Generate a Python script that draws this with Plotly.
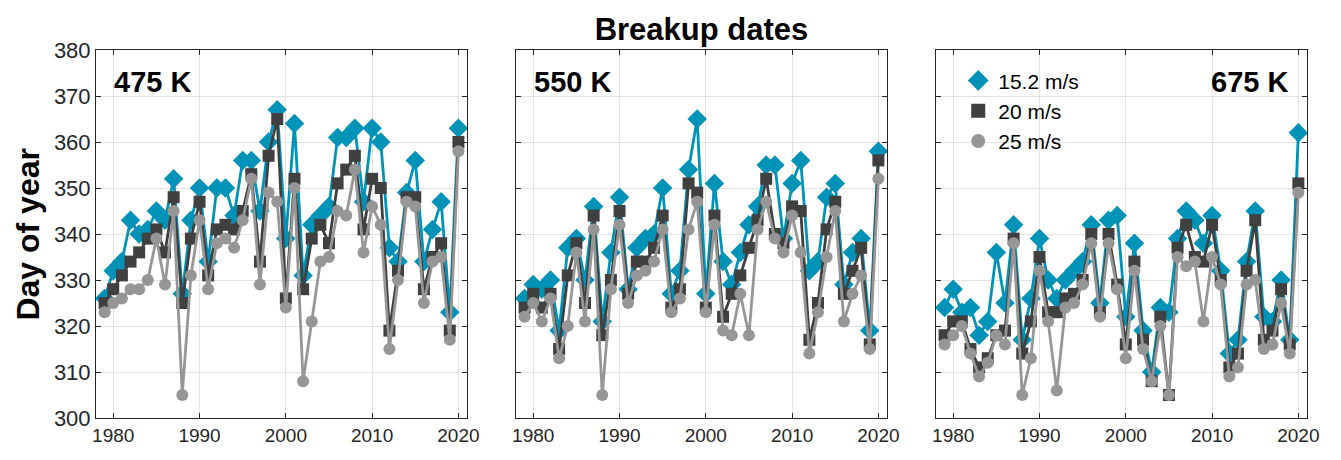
import plotly.graph_objects as go
from plotly.subplots import make_subplots

years = list(range(1979, 2021))

# 475 K panel
b475 = [326, 332, 334, 343, 340, 341, 345, 343, 352, 327, 343, 350, 334, 350, 350, 344, 356, 356, 345, 360, 367,
        339, 364, 331, 342, 344, 346, 361, 361, 363, 347, 363, 360, 337, 334, 349, 356, 334, 341, 347, 323, 363]
s475 = [325, 328, 331, 334, 336, 339, 341, 336, 348, 325, 339, 347, 331, 341, 342, 341, 345, 353, 334, 357, 365,
        326, 352, 328, 339, 342, 338, 351, 354, 357, 341, 352, 350, 319, 332, 348, 348, 328, 335, 338, 319, 360]
c475 = [323, 325, 326, 328, 328, 330, 339, 329, 345, 305, 331, 343, 328, 338, 339, 337, 343, 352, 329, 349, 347,
        324, 350, 308, 321, 334, 335, 345, 344, 354, 336, 346, 342, 315, 330, 347, 346, 325, 334, 335, 317, 358]

# 550 K panel
b550 = [326, 329, 328, 330, 319, 337, 339, 330, 346, 321, 336, 348, 328, 337, 339, 340, 350, 327, 332, 354, 365,
        327, 351, 334, 329, 336, 342, 346, 355, 355, 339, 351, 356, 332, 334, 348, 351, 329, 336, 339, 319, 358]
s550 = [324, 327, 324, 327, 315, 331, 338, 325, 344, 318, 330, 345, 327, 334, 334, 337, 344, 324, 328, 351, 349,
        324, 344, 322, 327, 331, 337, 343, 352, 340, 338, 346, 345, 317, 325, 341, 347, 327, 332, 337, 316, 356]
c550 = [322, 325, 321, 326, 313, 320, 336, 321, 341, 305, 328, 342, 325, 331, 332, 334, 341, 323, 326, 341, 347,
        323, 342, 319, 318, 327, 318, 341, 347, 339, 336, 344, 336, 314, 323, 335, 345, 321, 327, 331, 315, 352]

# 675 K panel
b675 = [324, 328, 323, 324, 318, 321, 336, 325, 342, 317, 326, 339, 330, 326, 330, 332, 334, 342, 325, 343, 344,
        322, 338, 319, 310, 324, 323, 339, 345, 343, 338, 344, 332, 314, 317, 334, 345, 322, 321, 330, 317, 362]
s675 = [318, 321, 321, 315, 311, 313, 318, 319, 339, 314, 321, 335, 323, 323, 326, 327, 330, 340, 323, 340, 329,
        316, 334, 317, 308, 322, 305, 337, 342, 335, 334, 342, 330, 311, 314, 332, 343, 317, 319, 328, 316, 351]
c675 = [316, 318, 320, 314, 309, 312, 318, 316, 338, 305, 313, 332, 321, 306, 324, 325, 329, 338, 322, 338, 328,
        313, 332, 315, 308, 320, 305, 335, 333, 334, 321, 335, 329, 309, 311, 329, 330, 315, 316, 325, 314, 349]

panel_labels = ["475 K", "550 K", "675 K"]
series_names = ["15.2 m/s", "20 m/s", "25 m/s"]
x_ticks = [1980, 1990, 2000, 2010, 2020]
y_ticks = [300, 310, 320, 330, 340, 350, 360, 370, 380]

colors = ["#0093B7", "#404040", "#969696"]
symbols = ["diamond", "square", "circle"]
sizes = [15, 12, 12]

panels = [(b475, s475, c475), (b550, s550, c550), (b675, s675, c675)]

fig = make_subplots(rows=1, cols=3, shared_yaxes=True)

for p, data in enumerate(panels):
    for k, vals in enumerate(data):
        fig.add_trace(go.Scatter(
            x=years, y=vals, mode="lines+markers", name=series_names[k],
            line=dict(color=colors[k], width=2.8),
            marker=dict(symbol=symbols[k], size=sizes[k], color=colors[k]),
            showlegend=False), row=1, col=p + 1)

# legend entries (markers only, as in the reference legend)
for k in range(3):
    fig.add_trace(go.Scatter(
        x=[None], y=[None], mode="markers", name=series_names[k],
        marker=dict(symbol=symbols[k], size=sizes[k] + 2, color=colors[k]),
        showlegend=True), row=1, col=3)

font_family = "Liberation Sans, Arial, Helvetica, sans-serif"
domains = [[0.0, 0.3064], [0.3468, 0.6532], [0.6936, 1.0]]
for i in range(3):
    xa = "xaxis" if i == 0 else f"xaxis{i+1}"
    ya = "yaxis" if i == 0 else f"yaxis{i+1}"
    fig.layout[xa].update(
        domain=domains[i], range=[1978, 2021], tickvals=x_ticks,
        ticks="inside", ticklen=5, tickcolor="#262626",
        showline=True, linecolor="#262626", linewidth=1, mirror="ticks",
        showgrid=True, gridcolor="#e3e3e3", gridwidth=1, zeroline=False,
        tickfont=dict(size=19, color="#262626", family=font_family))
    fig.layout[ya].update(
        range=[300, 380], tickvals=y_ticks,
        ticks="inside", ticklen=5, tickcolor="#262626",
        showline=True, linecolor="#262626", linewidth=1, mirror="ticks",
        showgrid=True, gridcolor="#e3e3e3", gridwidth=1, zeroline=False,
        showticklabels=(i == 0),
        tickfont=dict(size=22, color="#262626", family=font_family))

annotations = [
    dict(text="<b>475 K</b>", x=0.0132, y=0.913, xref="paper", yref="paper",
         xanchor="left", yanchor="middle", showarrow=False,
         font=dict(size=29, color="black", family=font_family)),
    dict(text="<b>550 K</b>", x=0.3600, y=0.913, xref="paper", yref="paper",
         xanchor="left", yanchor="middle", showarrow=False,
         font=dict(size=29, color="black", family=font_family)),
    dict(text="<b>675 K</b>", x=0.986, y=0.913, xref="paper", yref="paper",
         xanchor="right", yanchor="middle", showarrow=False,
         font=dict(size=29, color="black", family=font_family)),
    dict(text="<b>Day of year</b>", x=-0.0565, y=0.5, xref="paper", yref="paper",
         xanchor="center", yanchor="middle", textangle=-90, showarrow=False,
         borderpad=0,
         font=dict(size=32, color="black", family=font_family)),
]

fig.update_layout(
    width=1341, height=460,
    margin=dict(l=88, r=42, t=42, b=50),
    paper_bgcolor="white", plot_bgcolor="white",
    title=dict(text="<b>Breakup dates</b>", x=0.5, xref="paper", y=0.955, yref="container",
               xanchor="center", yanchor="middle",
               font=dict(size=31, color="black", family=font_family)),
    annotations=annotations,
    legend=dict(x=0.712, y=0.972, xanchor="left", yanchor="top",
                bgcolor="rgba(0,0,0,0)", borderwidth=0,
                font=dict(size=21, color="black", family=font_family)),
    font=dict(family=font_family),
)

fig.write_html("out.html")
